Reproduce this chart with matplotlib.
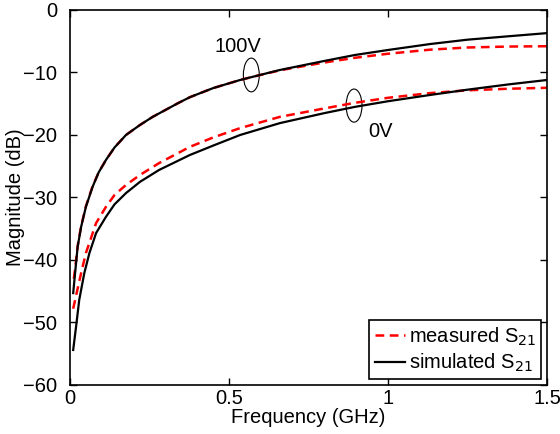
import numpy as np
import matplotlib
matplotlib.use('Agg')
import matplotlib.pyplot as plt
from matplotlib.patches import Ellipse

plt.rcParams['font.family'] = ['Liberation Sans', 'DejaVu Sans']

# Data
f_sim100 = [0.010, 0.016, 0.024, 0.035, 0.050, 0.071, 0.090, 0.113, 0.140, 0.176,
            0.220, 0.260, 0.300, 0.340, 0.377, 0.450, 0.535, 0.570, 0.660, 0.800,
            0.896, 1.000, 1.132, 1.250, 1.380, 1.500]
sim100 = [-45.3, -42.1, -37.9, -34.7, -31.5, -28.3, -26.0, -24.0, -22.0, -20.0,
          -18.4, -17.1, -16.0, -14.9, -13.95, -12.5, -11.2, -10.75, -9.6, -8.15,
          -7.2, -6.4, -5.45, -4.75, -4.2, -3.7]

f_meas100 = [0.012, 0.016, 0.024, 0.035, 0.050, 0.071, 0.090, 0.113, 0.140, 0.176,
             0.220, 0.260, 0.300, 0.340, 0.377, 0.450, 0.535, 0.570, 0.660, 0.800,
             0.896, 1.000, 1.132, 1.250, 1.380, 1.500]
meas100 = [-43.0, -41.5, -37.8, -34.6, -31.4, -28.2, -26.0, -24.0, -22.0, -20.0,
           -18.4, -17.1, -16.0, -14.9, -13.95, -12.5, -11.2, -10.75, -9.65, -8.4,
           -7.65, -7.0, -6.35, -6.0, -5.85, -5.8]

f_sim0 = [0.010, 0.019, 0.029, 0.045, 0.061, 0.082, 0.113, 0.140, 0.176, 0.220,
          0.280, 0.377, 0.450, 0.535, 0.660, 0.800, 0.896, 1.000, 1.132, 1.250,
          1.380, 1.500]
sim0 = [-54.4, -50.7, -46.4, -42.1, -38.9, -35.7, -33.1, -31.1, -29.3, -27.5,
        -25.6, -23.2, -21.7, -20.0, -18.1, -16.5, -15.5, -14.6, -13.6, -12.75,
        -11.9, -11.2]

f_meas0 = [0.010, 0.020, 0.035, 0.050, 0.082, 0.113, 0.140, 0.176, 0.220, 0.280,
           0.377, 0.450, 0.535, 0.660, 0.800, 0.896, 1.000, 1.132, 1.250, 1.380,
           1.500]
meas0 = [-47.8, -45.5, -42.1, -38.9, -34.1, -31.5, -29.6, -28.0, -26.4, -24.5,
         -21.9, -20.4, -18.9, -17.1, -15.75, -14.85, -14.05, -13.3, -12.85, -12.6,
         -12.45]

fs = 14.5

fig = plt.figure(figsize=(5.6, 4.34), dpi=100)
ax = fig.add_axes([0.125, 0.113, 0.852, 0.864])

ax.plot(f_meas100, meas100, 'r--', lw=1.8, dashes=(3.5, 2.2), label='measured S$_{21}$')
ax.plot(f_sim100, sim100, 'k-', lw=1.6, label='simulated S$_{21}$')
ax.plot(f_meas0, meas0, 'r--', lw=1.8, dashes=(3.5, 2.2))
ax.plot(f_sim0, sim0, 'k-', lw=1.6)

# annotations
ax.add_patch(Ellipse((0.57, -10.4), 0.05, 5.4, fill=False, ec='k', lw=0.8))
ax.add_patch(Ellipse((0.893, -15.3), 0.05, 5.3, fill=False, ec='k', lw=0.8))
ax.text(0.528, -5.9, '100V', fontsize=fs, ha='center', va='center')
ax.text(0.975, -19.4, '0V', fontsize=fs, ha='center', va='center')

ax.set_xlim(0, 1.5)
ax.set_ylim(-60, 0)
ax.set_xticks([0, 0.5, 1, 1.5])
ax.set_xticklabels(['0', '0.5', '1', '1.5'])
ax.set_yticks(range(-60, 1, 10))
ax.tick_params(direction='in', top=True, right=True, labelsize=fs, width=1, length=5)
ax.tick_params(axis='x', pad=3)
ax.tick_params(axis='y', pad=9)
for s in ax.spines.values():
    s.set_linewidth(1.2)

ax.set_xlabel('Frequency (GHz)', fontsize=fs, labelpad=0)
ax.set_ylabel('Magnitude (dB)', fontsize=fs, labelpad=-1)

leg = ax.legend(loc='lower right', fontsize=fs, fancybox=False, framealpha=1,
                edgecolor='k', borderaxespad=0.3, handlelength=1.5, handletextpad=0.2,
                labelspacing=0.2, borderpad=0.25)
leg.get_frame().set_linewidth(1.2)

fig.savefig('out.png', dpi=100)
